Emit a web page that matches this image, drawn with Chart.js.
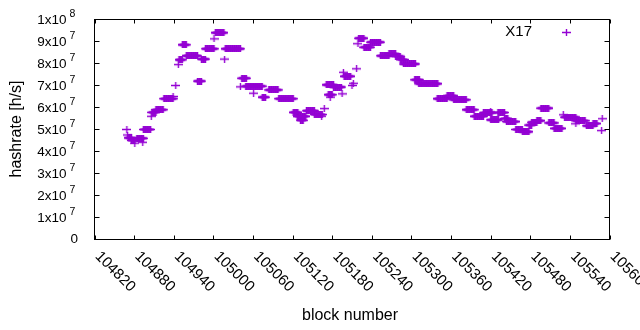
<!DOCTYPE html>
<html>
<head>
<meta charset="utf-8">
<script src="https://cdn.jsdelivr.net/npm/chart.js@4.4.0/dist/chart.umd.min.js"></script>
<style>
  body { margin: 0; background: #fff; }
  #wrap { width: 640px; height: 330px; }
</style>
</head>
<body>
<div id="wrap"><canvas id="chart" width="640" height="330"></canvas></div>
<script>
// runs of blocks with the same hashrate: first block, last block, hashrate (x10^7 h/s)
const runFrom = [104869, 104870, 104871, 104876, 104881, 104884, 104893, 104894, 104906, 104907,
                 104913, 104925, 104939, 104943, 104947, 104948, 104953, 104959, 104976, 104982,
                 104988, 105001, 105003, 105017, 105018, 105041, 105043, 105049, 105061, 105074,
                 105084, 105099, 105121, 105127, 105132, 105141, 105153, 105164, 105168, 105171,
                 105174, 105177, 105182, 105195, 105197, 105198, 105210, 105212, 105217, 105219,
                 105220, 105228, 105238, 105253, 105266, 105276, 105283, 105288, 105305, 105311,
                 105339, 105354, 105364, 105383, 105395, 105409, 105420, 105420, 105431, 105441,
                 105444, 105458, 105468, 105478, 105482, 105490, 105496, 105508, 105516, 105530,
                 105532, 105549, 105549, 105565, 105575, 105588, 105589];
const runTo   = [104869, 104870, 104876, 104881, 104881, 104894, 104893, 104905, 104906, 104913,
                 104924, 104939, 104939, 104943, 104947, 104953, 104959, 104976, 104982, 104988,
                 105001, 105001, 105016, 105017, 105041, 105041, 105050, 105074, 105061, 105079,
                 105098, 105121, 105128, 105140, 105136, 105153, 105165, 105164, 105168, 105182,
                 105180, 105177, 105194, 105195, 105197, 105208, 105210, 105212, 105217, 105219,
                 105228, 105238, 105253, 105266, 105276, 105283, 105289, 105306, 105312, 105340,
                 105354, 105364, 105383, 105395, 105409, 105422, 105432, 105420, 105441, 105446,
                 105458, 105468, 105478, 105482, 105490, 105496, 105508, 105516, 105528, 105530,
                 105549, 105549, 105563, 105575, 105581, 105588, 105589];
const runRate = [5.0, 4.75, 4.62, 4.5, 4.38, 4.6, 4.42, 5.0, 5.6, 5.78,
                 5.9, 6.4, 6.5, 7.0, 7.95, 8.17, 8.85, 8.35, 7.2, 8.2,
                 8.67, 9.12, 9.4, 8.2, 8.67, 6.94, 7.33, 6.97, 6.65, 6.47,
                 6.8, 6.4, 5.78, 5.6, 5.42, 5.85, 5.68, 5.6, 5.95, 7.03,
                 6.58, 6.47, 6.93, 6.62, 7.6, 7.42, 7.0, 7.1, 7.76, 8.9,
                 9.15, 8.74, 8.97, 8.35, 8.44, 8.33, 8.18, 7.98, 7.26, 7.08,
                 6.4, 6.53, 6.35, 5.9, 5.6, 5.76, 5.44, 5.8, 5.77, 5.5,
                 5.36, 5.0, 4.9, 5.2, 5.33, 5.4, 5.97, 5.3, 5.05, 5.67,
                 5.56, 5.26, 5.4, 5.17, 5.27, 4.95, 5.49];

const xTicks = [104820, 104880, 104940, 105000, 105060, 105120, 105180,
                105240, 105300, 105360, 105420, 105480, 105540, 105600];
const yTicks = [0, 1e7, 2e7, 3e7, 4e7, 5e7, 6e7, 7e7, 8e7, 9e7, 1e8];
const yTickMant = ['0', '1x10', '2x10', '3x10', '4x10', '5x10', '6x10', '7x10', '8x10', '9x10', '1x10'];
const yTickExp  = ['', '7', '7', '7', '7', '7', '7', '7', '7', '7', '8'];
const seriesName = 'X17';
const purple = '#9400d3';

// gnuplot style "+" mark
const mark = document.createElement('canvas');
mark.width = 9;
mark.height = 7;
const mctx = mark.getContext('2d');
mctx.strokeStyle = purple;
mctx.lineWidth = 1.4;
mctx.beginPath();
mctx.moveTo(0, 3.5);
mctx.lineTo(9, 3.5);
mctx.moveTo(4.5, 0);
mctx.lineTo(4.5, 7);
mctx.stroke();

// one point per block
const points = [];
runFrom.forEach((from, i) => {
    for (let b = from; b <= runTo[i]; b++) {
        points.push({ x: b, y: runRate[i] * 1e7 });
    }
});

// frame, ticks, labels and key like gnuplot
const gnuplotFrame = {
    id: 'gnuplotFrame',
    afterDraw(chart) {
        const ctx = chart.ctx;
        const area = chart.chartArea;
        const xs = chart.scales.x;
        const ys = chart.scales.y;
        ctx.save();
        ctx.strokeStyle = '#000';
        ctx.lineWidth = 1;
        ctx.strokeRect(area.left, area.top, area.right - area.left, area.bottom - area.top);

        ctx.beginPath();
        xTicks.forEach(v => {
            const px = Math.round(xs.getPixelForValue(v)) + 0.5;
            ctx.moveTo(px, area.bottom);
            ctx.lineTo(px, area.bottom - 4);
            ctx.moveTo(px, area.top);
            ctx.lineTo(px, area.top + 4);
        });
        yTicks.forEach(v => {
            const py = ys.getPixelForValue(v);
            ctx.moveTo(area.left, py);
            ctx.lineTo(area.left + 5, py);
            ctx.moveTo(area.right, py);
            ctx.lineTo(area.right - 5, py);
        });
        ctx.stroke();

        ctx.fillStyle = '#000';
        ctx.textBaseline = 'middle';

        // y tick labels with superscript exponent
        yTicks.forEach((v, i) => {
            const py = ys.getPixelForValue(v);
            if (yTickExp[i] === '') {
                ctx.font = '13.5px "Liberation Sans"';
                ctx.textAlign = 'right';
                ctx.fillText(yTickMant[i], 78, py);
            } else {
                ctx.font = '13.5px "Liberation Sans"';
                ctx.textAlign = 'right';
                ctx.fillText(yTickMant[i], 66.5, py + 1);
                ctx.font = '10.5px "Liberation Sans"';
                ctx.textAlign = 'left';
                ctx.fillText(yTickExp[i], 69.5, py - 5);
            }
        });

        // x tick labels, turned 45 degrees
        ctx.font = '15px "Liberation Sans"';
        ctx.textAlign = 'left';
        xTicks.forEach(v => {
            const px = xs.getPixelForValue(v);
            ctx.save();
            ctx.translate(px + 3, 254);
            ctx.rotate(Math.PI / 4);
            ctx.fillText(String(v), 0, 0);
            ctx.restore();
        });

        // axis titles
        ctx.font = '16px "Liberation Sans"';
        ctx.textAlign = 'center';
        ctx.fillText('block number', 350, 316);
        ctx.save();
        ctx.translate(17, 129);
        ctx.rotate(-Math.PI / 2);
        ctx.fillText('hashrate [h/s]', 0, 0);
        ctx.restore();

        // key
        ctx.font = '15px "Liberation Sans"';
        ctx.textAlign = 'right';
        ctx.fillText(seriesName, 532, 32);
        ctx.drawImage(mark, 562, 29);
        ctx.restore();
    }
};

new Chart(document.getElementById('chart'), {
    type: 'scatter',
    data: {
        datasets: [{
            label: seriesName,
            data: points,
            pointStyle: mark,
            pointRadius: 4,
            borderColor: purple,
            backgroundColor: purple
        }]
    },
    options: {
        responsive: false,
        animation: false,
        devicePixelRatio: 1,
        layout: { padding: { left: 94.5, right: 30.5, top: 19.5, bottom: 90.5 } },
        plugins: {
            legend: { display: false },
            tooltip: { enabled: false }
        },
        scales: {
            x: { type: 'linear', min: 104820, max: 105600, display: false },
            y: { min: 0, max: 1e8, display: false }
        }
    },
    plugins: [gnuplotFrame]
});
</script>
</body>
</html>
